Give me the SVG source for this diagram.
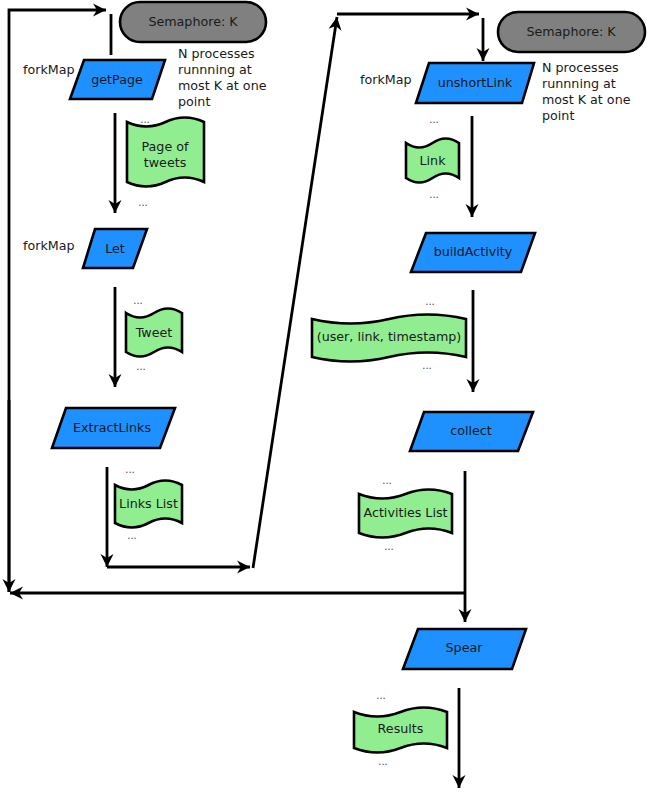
<svg xmlns="http://www.w3.org/2000/svg" width="647" height="796" viewBox="0 0 647 796">
<style>
.t{font-family:"DejaVu Sans",sans-serif;font-size:12.7px;fill:#1a1a1a}
.c{text-anchor:middle}
.d{font-family:"DejaVu Sans",sans-serif;font-size:10px;fill:#444;text-anchor:middle}
.proc{fill:#1e90ff;stroke:#000;stroke-width:2.6;stroke-linejoin:miter}
.sem{fill:#808080;stroke:#000;stroke-width:2.6}
.flag{fill:#90ee90;stroke:#000;stroke-width:2.6}
.ln{fill:none;stroke:#000;stroke-width:2.8}
.ar{marker-end:url(#ah)}
</style>
<defs>
<marker id="ah" markerUnits="userSpaceOnUse" markerWidth="16" markerHeight="16" viewBox="-14 -8 16 16" refX="0" refY="0" orient="auto">
<path d="M0,0 L-13,-6.5 L-9,0 L-13,6.5 Z" fill="#000"/>
</marker>
</defs>
<g id="connectors">
<polyline class="ln ar" points="9,592 9,10 106,10"/>
<line class="ln ar" x1="9" y1="400" x2="9" y2="592"/>
<line class="ln" x1="111" y1="14" x2="111" y2="55"/>
<line class="ln ar" x1="115" y1="113" x2="115" y2="213"/>
<line class="ln ar" x1="115" y1="287" x2="115" y2="387"/>
<polyline class="ln ar" points="107,467 107,567"/>
<line class="ln ar" x1="107" y1="567" x2="250" y2="567"/>
<line class="ln ar" x1="253" y1="568" x2="337" y2="17"/>
<line class="ln ar" x1="337" y1="14" x2="479" y2="14"/>
<line class="ln ar" x1="483" y1="18" x2="483" y2="61"/>
<line class="ln ar" x1="472" y1="116" x2="472" y2="217"/>
<line class="ln ar" x1="473" y1="290" x2="473" y2="392"/>
<line class="ln ar" x1="465" y1="471" x2="465" y2="622"/>
<line class="ln ar" x1="466" y1="593" x2="10" y2="593"/>
<line class="ln ar" x1="459" y1="688" x2="459" y2="788"/>
</g>
<g id="sem1"><rect class="sem" x="120" y="2" width="146" height="40" rx="20" ry="20"/><text class="t c" x="193" y="26">Semaphore: K</text></g>
<g id="note1"><text class="t" x="178" y="58">N processes</text><text class="t" x="178" y="74">runnning at</text><text class="t" x="178" y="90">most K at one</text><text class="t" x="178" y="106">point</text></g>
<g id="getPage"><text class="t" x="23" y="74">forkMap</text><polygon class="proc" points="84,60 165,60 152,99 70,99"/><text class="t c" x="117" y="84">getPage</text></g>
<g id="pageOfTweets"><text class="d" x="145" y="123">...</text><path class="flag" d="M127,122 Q146.25,131 165.5,122 T204,122 L204,182 Q184.75,173 165.5,182 T127,182 Z"/><text class="t c" x="165" y="151">Page of</text><text class="t c" x="165" y="167">tweets</text><text class="d" x="143" y="206">...</text></g>
<g id="let"><text class="t" x="23" y="250">forkMap</text><polygon class="proc" points="95,229 147,229 133,268 83,268"/><text class="t c" x="115" y="253">Let</text></g>
<g id="tweet"><text class="d" x="138" y="304">...</text><path class="flag" d="M126,313 Q140,322 154,313 T182,313 L182,352 Q168,343 154,352 T126,352 Z"/><text class="t c" x="154" y="337">Tweet</text><text class="d" x="141" y="370">...</text></g>
<g id="extractLinks"><polygon class="proc" points="66,408 175,408 160,448 52,448"/><text class="t c" x="112" y="432">ExtractLinks</text></g>
<g id="linksList"><text class="d" x="130" y="473">...</text><path class="flag" d="M115,485 Q131.75,494 148.5,485 T182,485 L182,523 Q165.25,514 148.5,523 T115,523 Z"/><text class="t c" x="148.5" y="508">Links List</text><text class="d" x="132" y="539">...</text></g>
<g id="sem2"><rect class="sem" x="498" y="12" width="147" height="40" rx="20" ry="20"/><text class="t c" x="571" y="36">Semaphore: K</text></g>
<g id="note2"><text class="t" x="542" y="72">N processes</text><text class="t" x="542" y="88">runnning at</text><text class="t" x="542" y="104">most K at one</text><text class="t" x="542" y="120">point</text></g>
<g id="unshortLink"><text class="t" x="360" y="84">forkMap</text><polygon class="proc" points="429,63 534,63 522,103 416,103"/><text class="t c" x="475" y="87">unshortLink</text></g>
<g id="link"><text class="d" x="434" y="123">...</text><path class="flag" d="M406,143 Q419.25,152 432.5,143 T459,143 L459,178 Q445.75,169 432.5,178 T406,178 Z"/><text class="t c" x="432.5" y="165">Link</text><text class="d" x="434" y="198">...</text></g>
<g id="buildActivity"><polygon class="proc" points="426,233 535,233 521,272 411,272"/><text class="t c" x="473" y="256">buildActivity</text></g>
<g id="tuple"><text class="d" x="430" y="305">...</text><path class="flag" d="M312,319 Q350.5,328 389,319 T466,319 L466,357 Q427.5,348 389,357 T312,357 Z"/><text class="t c" x="389" y="341">(user, link, timestamp)</text><text class="d" x="427" y="369">...</text></g>
<g id="collect"><polygon class="proc" points="424,412 533,412 518,451 410,451"/><text class="t c" x="471" y="435">collect</text></g>
<g id="activitiesList"><text class="d" x="387" y="484">...</text><path class="flag" d="M359,494 Q382.25,503 405.5,494 T452,494 L452,533 Q428.75,524 405.5,533 T359,533 Z"/><text class="t c" x="405.5" y="517">Activities List</text><text class="d" x="389" y="550">...</text></g>
<g id="spear"><polygon class="proc" points="418,629 526,629 512,669 403,669"/><text class="t c" x="464" y="652">Spear</text></g>
<g id="results"><text class="d" x="381" y="699">...</text><path class="flag" d="M354,712 Q377.25,721 400.5,712 T447,712 L447,748 Q423.75,739 400.5,748 T354,748 Z"/><text class="t c" x="400.5" y="733">Results</text><text class="d" x="383" y="765">...</text></g>
</svg>
